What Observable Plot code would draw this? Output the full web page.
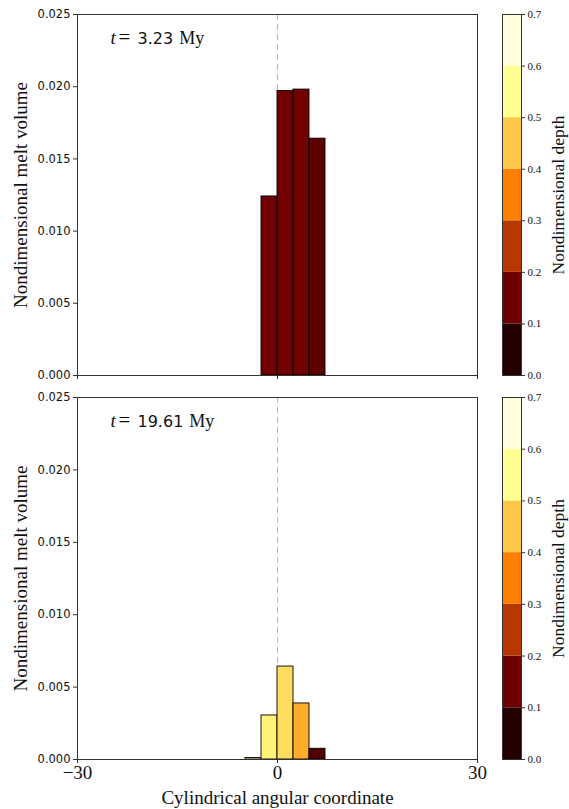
<!DOCTYPE html>
<html><head><meta charset="utf-8">
<script src="https://cdn.jsdelivr.net/npm/d3@7"></script>
<script src="https://cdn.jsdelivr.net/npm/@observablehq/plot@0.6"></script>
<style>
body{margin:0;background:#fff;}
#fig{position:relative;width:569px;height:809px;overflow:hidden;background:#fff;}
#fig svg{position:absolute;left:0;}
</style></head><body><div id="fig"></div>
<script>
// ---- data ----
const binEdges = [-4.8, -2.4, 0, 2.4, 4.8, 7.2];
const topValues = [0, 0.0124, 0.0197, 0.0198, 0.0164];
const topDepths = [null, 0.155, 0.155, 0.155, 0.128];
const bottomValues = [0.0001, 0.00304, 0.00642, 0.00387, 0.00074];
const bottomDepths = [0.62, 0.51, 0.48, 0.41, 0.11];
const panelTimes = ["3.23", "19.61"];
const xTicks = [-30, 0, 30];
const yTicks = [0, 0.005, 0.010, 0.015, 0.020, 0.025];
const depthLevels = [0, 0.1, 0.2, 0.3, 0.4, 0.5, 0.6, 0.7];
const xLabel = "Cylindrical angular coordinate";
const yLabel = "Nondimensional melt volume";
const cLabel = "Nondimensional depth";

const SERIF = "Liberation Serif";
const SANS = "DejaVu Sans";
const clamp = v => Math.max(0, Math.min(1, v));
const afmhot = t => d3.rgb(255*clamp(2*t), 255*clamp(2*t-0.5), 255*clamp(2*t-1)).toString();
const colorScale = {type: "linear", domain: [0, 0.7], interpolate: afmhot};
const minusFmt = d => d < 0 ? "\u2212" + Math.abs(d) : String(d);

const ctx = document.createElement("canvas").getContext("2d");
function textW(s, font) { ctx.font = font; return ctx.measureText(s).width; }
function fitSize(s, family, target) { return 100 * target / textW(s, `100px "${family}"`); }

const xLabelSize = Math.min(19, fitSize(xLabel, SERIF, 245));
const yLabelSize = Math.min(19, fitSize(yLabel, SERIF, 243));
const cLabelSize = Math.min(17.5, fitSize(cLabel, SERIF, 200));

const fig = document.getElementById("fig");

function panel(values, depths, time, isBottom, top, height, marginBottom) {
  const data = values.map((v, i) => ({x1: binEdges[i], x2: binEdges[i+1], v, d: depths[i]})).filter(d => d.v > 0);
  const numW = textW(time, `16px "${SANS}"`);
  const ann = {frameAnchor: "top-left", textAnchor: "start", lineAnchor: "bottom", dy: 29, fill: "#111"};
  const marks = [
    Plot.ruleX([0], {stroke: "#b5b5b5", strokeWidth: 1, strokeDasharray: "6,4"}),
    Plot.rect(data, {x1: "x1", x2: "x2", y1: 0, y2: "v", fill: "d", stroke: "#000", strokeWidth: 0.9, inset: 0}),
    Plot.frame({stroke: "#333", strokeWidth: 1}),
    Plot.axisY(yTicks, {tickSize: 4, tickPadding: 3, tickFormat: d3.format(".3f"), fontFamily: SANS, fontSize: 11.5, label: null, stroke: "#333"}),
    Plot.axisX(xTicks, {tickSize: 4, tickPadding: 2, tickFormat: isBottom ? minusFmt : () => "", fontFamily: SERIF, fontSize: 19, label: null, stroke: "#333"}),
    Plot.text([yLabel], {text: d => d, frameAnchor: "left", textAnchor: "middle", lineAnchor: "middle", rotate: -90, dx: -57, fontFamily: SERIF, fontSize: yLabelSize, fill: "#111"}),
    Plot.text(["t"], {...ann, text: d => d, dx: 33, fontFamily: SERIF, fontStyle: "italic", fontSize: 19}),
    Plot.text(["="], {...ann, text: d => d, dx: 41, fontFamily: SERIF, fontSize: 21}),
    Plot.text([time], {...ann, text: d => d, dx: 60, fontFamily: SANS, fontSize: 16}),
    Plot.text(["My"], {...ann, text: d => d, dx: 60 + numW + 6, fontFamily: SERIF, fontSize: 18})
  ];
  if (isBottom) marks.push(Plot.text([xLabel], {text: d => d, frameAnchor: "bottom", textAnchor: "middle", lineAnchor: "middle", dy: 38, fontFamily: SERIF, fontSize: xLabelSize, fill: "#111"}));
  const svg = Plot.plot({
    width: 569, height, marginLeft: 77, marginRight: 92, marginTop: 14, marginBottom,
    x: {domain: [-30, 30]},
    y: {domain: [0, 0.025]},
    color: colorScale,
    style: {background: "transparent", overflow: "visible", color: "#111"},
    marks
  });
  svg.style.top = top + "px";
  fig.appendChild(svg);

  const cbData = depthLevels.slice(0, -1).map((a, i) => ({y1: a, y2: depthLevels[i+1], m: (a + depthLevels[i+1]) / 2}));
  const cb = Plot.plot({
    width: 569, height, marginLeft: 502, marginRight: 48, marginTop: 14, marginBottom,
    x: {domain: [0, 1], axis: null},
    y: {domain: [0, 0.7], axis: null},
    color: colorScale,
    style: {background: "transparent", overflow: "visible", color: "#111"},
    marks: [
      Plot.rect(cbData, {y1: "y1", y2: "y2", fill: "m"}),
      Plot.frame({stroke: "#333", strokeWidth: 1}),
      Plot.axisY(depthLevels, {anchor: "right", tickSize: 3, tickPadding: 3, tickFormat: d3.format(".1f"), fontFamily: SERIF, fontSize: 11, label: null, stroke: "#333"}),
      Plot.text([cLabel], {text: d => d, frameAnchor: "right", textAnchor: "middle", lineAnchor: "middle", rotate: -90, dx: 37, fontFamily: SERIF, fontSize: cLabelSize, fill: "#111"})
    ]
  });
  cb.style.top = top + "px";
  fig.appendChild(cb);
}

panel(topValues, topDepths, panelTimes[0], false, 0, 390, 15);
panel(bottomValues, bottomDepths, panelTimes[1], true, 383, 426, 50);
</script>
</body></html>
